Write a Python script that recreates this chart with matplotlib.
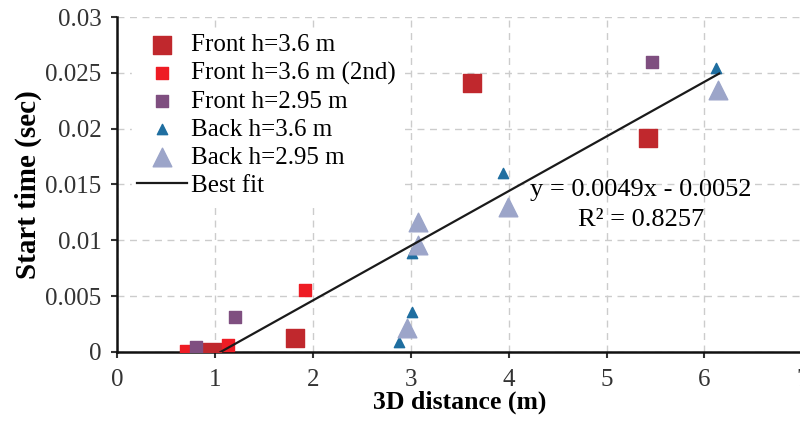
import numpy as np
import matplotlib.pyplot as plt

plt.rcParams['font.family'] = ['Liberation Serif', 'DejaVu Serif']

# data
front36_x = [0.97, 1.82, 3.63, 5.42]
front36_y = [0.0, 0.00125, 0.0241, 0.0192]
front36b_x = [0.71, 1.14, 1.92]
front36b_y = [0.0001, 0.0006, 0.0055]
front295_x = [0.81, 1.21, 5.46]
front295_y = [0.00045, 0.0031, 0.026]
back36_x = [2.88, 3.01, 3.01, 3.94, 6.12]
back36_y = [0.0009, 0.0036, 0.0089, 0.016, 0.0254]
back295_x = [2.96, 3.08, 3.08, 3.99, 6.14]
back295_y = [0.0021, 0.0116, 0.0096, 0.013, 0.0235]
fit_slope = 0.0049
fit_icpt = -0.0052
fit_range = [1.06, 6.15]

fig = plt.figure(figsize=(8, 4.26), dpi=100)
ax = fig.add_axes([0.146, 0.174, 0.857, 0.786])

ax.grid(True, linestyle=(0, (5, 4)), color='#cccccc', linewidth=1)
ax.set_axisbelow(True)

ax.scatter(front36_x, front36_y, marker='s', s=150, color='#c0282d', label='Front h=3.6 m', zorder=3)
ax.scatter(front36b_x, front36b_y, marker='s', s=65, color='#ee1c24', label='Front h=3.6 m (2nd)', zorder=3)
ax.scatter(front295_x, front295_y, marker='s', s=75, color='#7f4f80', label='Front h=2.95 m', zorder=3)
ax.scatter(back36_x, back36_y, marker='^', s=55, color='#1f6ea0', label='Back h=3.6 m', zorder=3)
ax.scatter(back295_x, back295_y, marker='^', s=180, color='#9ca5c9', label='Back h=2.95 m', zorder=3)

xf = np.array(fit_range)
ax.plot(xf, fit_slope * xf + fit_icpt, color='#1a1a1a', linewidth=1.6, label='Best fit', zorder=4)

ax.text(5.35, 0.0145, 'y = 0.0049x - 0.0052', ha='center', va='center', fontsize=19)
ax.text(5.35, 0.0118, 'R² = 0.8257', ha='center', va='center', fontsize=19)

ax.set_xlim(0, 7)
ax.set_ylim(0, 0.03)
ax.set_xticks(range(0, 8))
ax.set_yticks([0, 0.005, 0.01, 0.015, 0.02, 0.025, 0.03])
ax.set_yticklabels(['0', '0.005', '0.01', '0.015', '0.02', '0.025', '0.03'])
ax.tick_params(labelsize=18, direction='out', length=4, width=1.5, colors='#333333')
ax.tick_params(axis='x', pad=8)
ax.tick_params(axis='y', pad=7)
for s in ['top', 'right']:
    ax.spines[s].set_visible(False)
for s in ['left', 'bottom']:
    ax.spines[s].set_linewidth(1.8)
    ax.spines[s].set_color('#111111')

ax.set_xlabel('3D distance (m)', fontsize=18.5, fontweight='bold', labelpad=0)
ax.set_ylabel('Start time (sec)', fontsize=21, fontweight='bold', labelpad=2)

leg = ax.legend(loc='upper left', bbox_to_anchor=(0.022, 0.965), fontsize=18, frameon=True,
                framealpha=1, edgecolor='white', fancybox=False, handletextpad=0.15,
                labelspacing=0.22, borderaxespad=0, borderpad=0.2, handlelength=2.0,
                scatterpoints=1)

fig.savefig('out.png', dpi=100)
